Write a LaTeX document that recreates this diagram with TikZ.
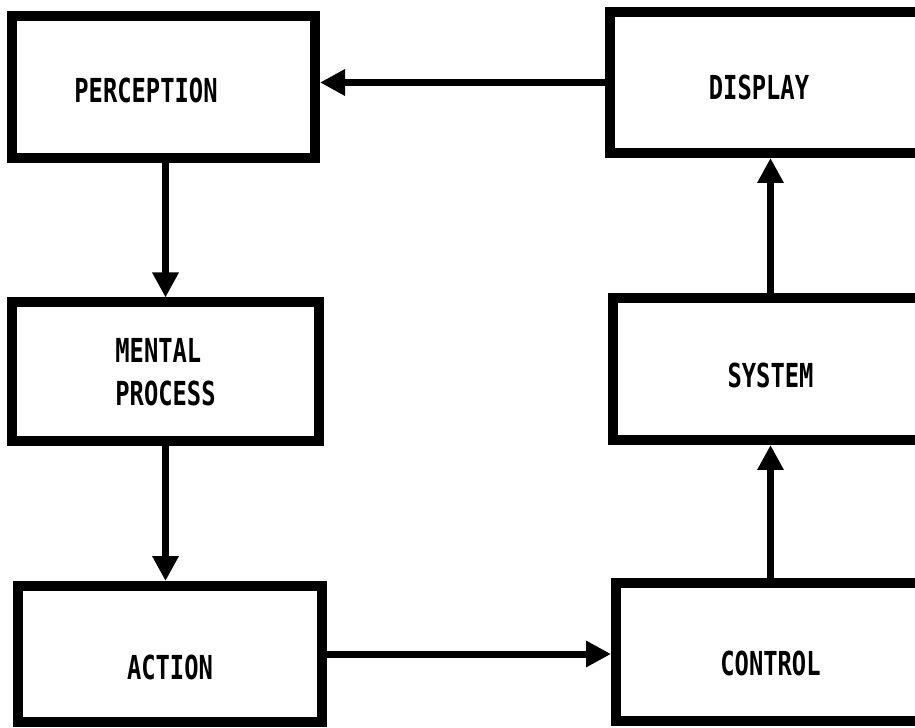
\documentclass[tikz,border=0pt]{standalone}
\usepackage{fontspec}
\newfontfamily\boxfont[FakeStretch=0.72]{DejaVu Sans Mono}
\usetikzlibrary{arrows.meta}
\begin{document}
\begin{tikzpicture}[>={Triangle[length=0.5cm, width=0.5cm]},
    blok/.style={draw, rectangle, line width=0.2cm, inner sep=0pt, align=left, text depth=0pt,
        font=\boxfont\bfseries\fontsize{18.8}{24.5}\selectfont},
    flow/.style={->, line width=0.14cm}]
    \clip (0, 0) rectangle (18.3, -14.56);
    % linke Spalte
    \node[blok, minimum width=6.06cm, minimum height=2.84cm, text height=0.64cm] (perception) at (3.27, -1.74) {\hspace*{-0.7cm}PERCEPTION};
    \node[blok, minimum width=6.14cm, minimum height=2.78cm] (mental) at (3.31, -7.44) {MENTAL\\PROCESS};
    \node[blok, minimum width=6.08cm, minimum height=2.72cm, text height=1.0cm] (action) at (3.40, -13.08) {ACTION};
    % rechte Spalte
    \node[blok, minimum width=6.36cm, minimum height=2.82cm, text height=0.70cm] (display) at (15.38, -1.65) {\hspace*{-0.4cm}DISPLAY};
    \node[blok, minimum width=6.30cm, minimum height=2.84cm, text height=0.76cm] (system) at (15.41, -7.38) {SYSTEM};
    \node[blok, minimum width=6.18cm, minimum height=2.76cm, text height=0.92cm] (control) at (15.41, -13.04) {CONTROL};

    % Pfeile
    \draw[flow] (display.west) -- (display.west -| perception.east);
    \draw[flow] (perception.south -| mental.north) -- (mental.north);
    \draw[flow] (mental.south) -- (mental.south |- action.north);
    \draw[flow] (action.east) -- (action.east -| control.west);
    \draw[flow] (control.north) -- (control.north |- system.south);
    \draw[flow] (system.north) -- (system.north |- display.south);
\end{tikzpicture}
\end{document}
